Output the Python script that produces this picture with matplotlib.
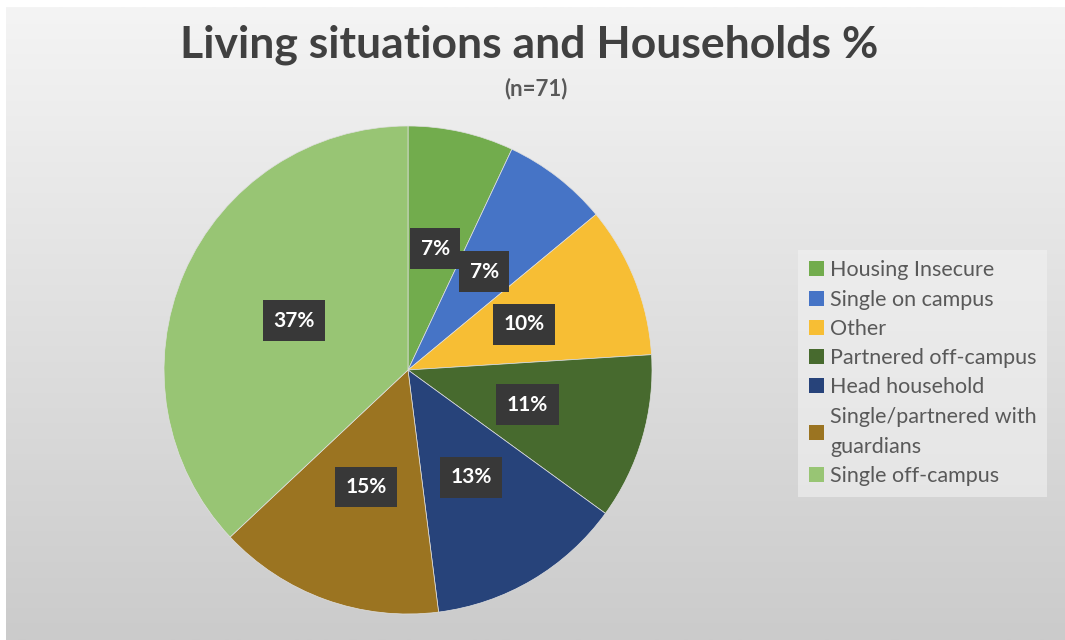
import numpy as np
import matplotlib.pyplot as plt
from matplotlib.patches import Patch
from matplotlib.colors import LinearSegmentedColormap

# living situation shares (%)
categories = ['Housing Insecure', 'Single on campus', 'Other',
              'Partnered off-campus', 'Head household',
              'Single/partnered with\nguardians', 'Single off-campus']
shares = [7, 7, 10, 11, 13, 15, 37]
colors = ['#72AC4D', '#4674C6', '#F7BE34', '#476A2E',
          '#27437A', '#9B7421', '#98C574']

plt.rcParams['font.family'] = ['Lato', 'DejaVu Sans']

fig = plt.figure(figsize=(10.65, 6.4), dpi=100)
fig.patch.set_facecolor('white')

# grey gradient panel behind everything
bg = fig.add_axes([6 / 1065, 0, 1 - 6 / 1065, 1 - 7 / 640])
grad = np.linspace(0, 1, 256).reshape(-1, 1)
bg.imshow(grad, aspect='auto', extent=[0, 1, 1, 0],
          cmap=LinearSegmentedColormap.from_list('bgfade', ['#F4F4F4', '#CBCBCB']))
bg.set_axis_off()

ax = fig.add_axes([(408 - 244) / 1065, (640 - 370 - 244) / 640, 488 / 1065, 488 / 640])
wedges, texts = ax.pie(shares, colors=colors, startangle=90, counterclock=False,
                       radius=1, wedgeprops=dict(linewidth=0.5, edgecolor='#E0E0E0'))
ax.set_xlim(-1.0, 1.0)
ax.set_ylim(-1.0, 1.0)
ax.set_aspect('equal')
ax.set_axis_off()

# percentage labels in dark boxes, half way out along each slice
for w, val in zip(wedges, shares):
    mid = np.deg2rad((w.theta1 + w.theta2) / 2)
    x, y = 0.51 * np.cos(mid), 0.51 * np.sin(mid)
    ax.text(x, y, f'{val}%', ha='center', va='center', fontsize=15,
            fontweight='bold', color='white',
            bbox=dict(boxstyle='square,pad=0.5', facecolor='#383838', edgecolor='none'))

fig.text(0.497, 0.93, 'Living situations and Households %', ha='center', va='center',
         fontsize=32, fontweight='bold', color='#404040')
fig.text(0.503, 0.862, '(n=71)', ha='center', va='center',
         fontsize=16, fontweight='bold', color='#595959')

handles = [Patch(facecolor=c, edgecolor='none') for c in colors]
leg = fig.legend(handles, categories, loc='center left', bbox_to_anchor=(0.739, 0.417),
                 frameon=True, fontsize=15.5, labelcolor='#595959',
                 handlelength=0.7, handleheight=0.7, handletextpad=0.3,
                 labelspacing=0.43, borderpad=0.5)
leg.get_frame().set_facecolor('#F2F2F2')
leg.get_frame().set_alpha(0.6)
leg.get_frame().set_edgecolor('none')
leg.get_frame().set_boxstyle('square', pad=0)
for t in leg.get_texts():
    t.set_linespacing(1.62)

fig.savefig('out.png', dpi=100)
